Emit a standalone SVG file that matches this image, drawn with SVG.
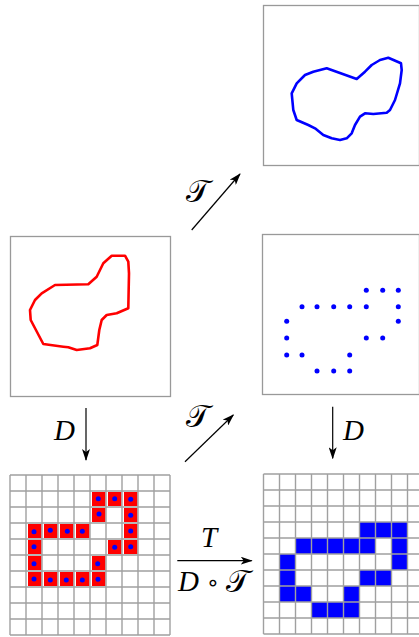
<svg xmlns="http://www.w3.org/2000/svg" width="419" height="637" viewBox="0 0 419 637">
<style>
.frame{fill:#fff;stroke:#999;stroke-width:1.3}
.grid{fill:none;stroke:#a0a0a0;stroke-width:1.4}
.red{fill:#ff0000}
.blue{fill:#0000ff}
.dot{fill:#0000ff}
.conn{stroke:#000;stroke-width:1.2;fill:none}
.lbl{font-family:"Liberation Serif","DejaVu Serif",serif;font-style:italic;font-size:29px;fill:#000}
.cal{font-family:"DejaVu Serif","Liberation Serif",serif;font-size:31px;fill:#000}
.op{font-family:"DejaVu Sans","Liberation Sans",sans-serif;font-size:22px;fill:#000}
</style>
<defs>
<marker id="ah" viewBox="0 0 12 8" refX="11" refY="4" markerWidth="12" markerHeight="8" markerUnits="userSpaceOnUse" orient="auto">
<path d="M0,0 L12,4 L0,8 L3,4 Z" fill="#000"/>
</marker>
</defs>

<g id="box_top_right">
<rect class="frame" x="263.5" y="5.5" width="156" height="160"/>
<path d="M356.7,79 L365,71.7 L371.7,65 L380,60 L388.3,57.7 L401,63.3 L401.7,70 L400,83.3 L395,100 L390,110 L386.7,112.7 L373.3,114 L365,113.3 L360,116.7 L355,125 L351.7,133.3 L346.7,138.3 L340,140 L331.7,138.3 L323.3,135 L315,128.3 L308.3,125 L296.7,120 L293.3,110 L291.7,93.3 L296.7,83.3 L305,75 L313.3,71.7 L326.7,68.3 Z" fill="none" stroke="#0000ff" stroke-width="2.6" stroke-linejoin="round"/>
</g>

<g id="box_mid_left">
<rect class="frame" x="10.5" y="236.5" width="160" height="160"/>
<path d="M88.3,284.3 L96.7,276.7 L103.3,263.3 L111.7,255.7 L125,255.7 L128.3,261.7 L129,273.3 L128.3,308.3 L116.7,313.3 L106.7,315 L101.7,320 L99.3,330 L97.3,345 L90,348.3 L76.7,350 L68.3,347.3 L63.3,346.7 L43.3,344 L30.7,320 L30,310 L35,300 L41.7,293.3 L55,285 Z" fill="none" stroke="#ff0000" stroke-width="2.6" stroke-linejoin="round"/>
</g>

<g id="box_mid_right">
<rect class="frame" x="262.5" y="234.5" width="157" height="160"/>
<g class="dot">
<circle cx="366.3" cy="290.3" r="2.5"/><circle cx="382.7" cy="290.3" r="2.5"/><circle cx="398.3" cy="290.3" r="2.5"/>
<circle cx="302" cy="306.7" r="2.5"/><circle cx="317" cy="306.7" r="2.5"/><circle cx="333.7" cy="306.7" r="2.5"/><circle cx="349.7" cy="306.7" r="2.5"/><circle cx="366.3" cy="306.7" r="2.5"/><circle cx="398.3" cy="306.7" r="2.5"/>
<circle cx="286.7" cy="321.3" r="2.5"/><circle cx="398.3" cy="321.3" r="2.5"/>
<circle cx="286.7" cy="338" r="2.5"/><circle cx="366.3" cy="338" r="2.5"/><circle cx="382.7" cy="338" r="2.5"/>
<circle cx="286.7" cy="355" r="2.5"/><circle cx="302" cy="355" r="2.5"/><circle cx="349.7" cy="355" r="2.5"/>
<circle cx="317" cy="371" r="2.5"/><circle cx="333.7" cy="371" r="2.5"/><circle cx="349.7" cy="371" r="2.5"/>
</g>
</g>

<g id="grid_bottom_left">
<rect x="10" y="475" width="160" height="160" fill="#fff"/>
<g class="red">
<rect x="92" y="492" width="13.5" height="14"/><rect x="108" y="492" width="13.5" height="14"/><rect x="124" y="492" width="13.5" height="14"/>
<rect x="92" y="508" width="13.5" height="14"/><rect x="124" y="508" width="13.5" height="14"/>
<rect x="28" y="524" width="13.5" height="14"/><rect x="44" y="524" width="13.5" height="14"/><rect x="60" y="524" width="13.5" height="14"/><rect x="76" y="524" width="13.5" height="14"/><rect x="124" y="524" width="13.5" height="14"/>
<rect x="28" y="540" width="13.5" height="14"/><rect x="108" y="540" width="13.5" height="14"/><rect x="124" y="540" width="13.5" height="14"/>
<rect x="28" y="556" width="13.5" height="14"/><rect x="92" y="556" width="13.5" height="14"/>
<rect x="28" y="572" width="13.5" height="14"/><rect x="44" y="572" width="13.5" height="14"/><rect x="60" y="572" width="13.5" height="14"/><rect x="76" y="572" width="13.5" height="14"/><rect x="92" y="572" width="13.5" height="14"/>
</g>
<path class="grid" d="M10,475V635M26,475V635M42,475V635M58,475V635M74,475V635M90,475V635M106,475V635M122,475V635M138,475V635M154,475V635M170,475V635M10,475H170M10,491H170M10,507H170M10,523H170M10,539H170M10,555H170M10,571H170M10,587H170M10,603H170M10,619H170M10,635H170"/>
<g class="dot">
<circle cx="98.3" cy="498.7" r="2.5"/><circle cx="114.7" cy="498.7" r="2.5"/><circle cx="130.7" cy="499.3" r="2.5"/>
<circle cx="99" cy="514" r="2.5"/><circle cx="130.7" cy="515.3" r="2.5"/>
<circle cx="34" cy="531.7" r="2.5"/><circle cx="50.3" cy="530.3" r="2.5"/><circle cx="67.3" cy="531.3" r="2.5"/><circle cx="82.3" cy="531.3" r="2.5"/><circle cx="130.7" cy="531" r="2.5"/>
<circle cx="34" cy="546.7" r="2.5"/><circle cx="114.7" cy="547.3" r="2.5"/><circle cx="130.7" cy="546.7" r="2.5"/>
<circle cx="34" cy="563.7" r="2.5"/><circle cx="97.7" cy="563.7" r="2.5"/>
<circle cx="34" cy="579" r="2.5"/><circle cx="50.3" cy="580" r="2.5"/><circle cx="66.3" cy="580" r="2.5"/><circle cx="82.3" cy="580" r="2.5"/><circle cx="98" cy="579.3" r="2.5"/>
</g>
</g>

<g id="grid_bottom_right">
<rect x="263.5" y="474" width="160" height="160" fill="#fff"/>
<g class="blue">
<rect x="359.5" y="522" width="16" height="16"/><rect x="375.5" y="522" width="16" height="16"/><rect x="391.5" y="522" width="16" height="16"/>
<rect x="295.5" y="538" width="16" height="16"/><rect x="311.5" y="538" width="16" height="16"/><rect x="327.5" y="538" width="16" height="16"/><rect x="343.5" y="538" width="16" height="16"/><rect x="359.5" y="538" width="16" height="16"/><rect x="391.5" y="538" width="16" height="16"/>
<rect x="279.5" y="554" width="16" height="16"/><rect x="391.5" y="554" width="16" height="16"/>
<rect x="279.5" y="570" width="16" height="16"/><rect x="359.5" y="570" width="16" height="16"/><rect x="375.5" y="570" width="16" height="16"/>
<rect x="279.5" y="586" width="16" height="16"/><rect x="295.5" y="586" width="16" height="16"/><rect x="343.5" y="586" width="16" height="16"/>
<rect x="311.5" y="602" width="16" height="16"/><rect x="327.5" y="602" width="16" height="16"/><rect x="343.5" y="602" width="16" height="16"/>
</g>
<path class="grid" d="M263.5,474V634M279.5,474V634M295.5,474V634M311.5,474V634M327.5,474V634M343.5,474V634M359.5,474V634M375.5,474V634M391.5,474V634M407.5,474V634M423.5,474V634M263.5,474H423.5M263.5,490H423.5M263.5,506H423.5M263.5,522H423.5M263.5,538H423.5M263.5,554H423.5M263.5,570H423.5M263.5,586H423.5M263.5,602H423.5M263.5,618H423.5M263.5,634H423.5"/>
</g>

<g id="connectors">
<line class="conn" x1="191.7" y1="230" x2="240" y2="174" marker-end="url(#ah)"/>
<text class="cal" x="186" y="202">𝒯</text>
<line class="conn" x1="185" y1="461.7" x2="233.3" y2="415" marker-end="url(#ah)"/>
<text class="cal" x="186" y="427">𝒯</text>
<line class="conn" x1="86" y1="408" x2="86" y2="460" marker-end="url(#ah)"/>
<text class="lbl" x="54" y="440">D</text>
<line class="conn" x1="332.7" y1="406.7" x2="332.7" y2="458.3" marker-end="url(#ah)"/>
<text class="lbl" x="343" y="440">D</text>
<line class="conn" x1="177.3" y1="560.7" x2="251.7" y2="560.7" marker-end="url(#ah)"/>
<text class="lbl" x="201" y="547">T</text>
<text class="lbl" x="178" y="591">D</text>
<text class="op" x="206" y="590">∘</text>
<text class="cal" x="226" y="592">𝒯</text>
</g>
</svg>
